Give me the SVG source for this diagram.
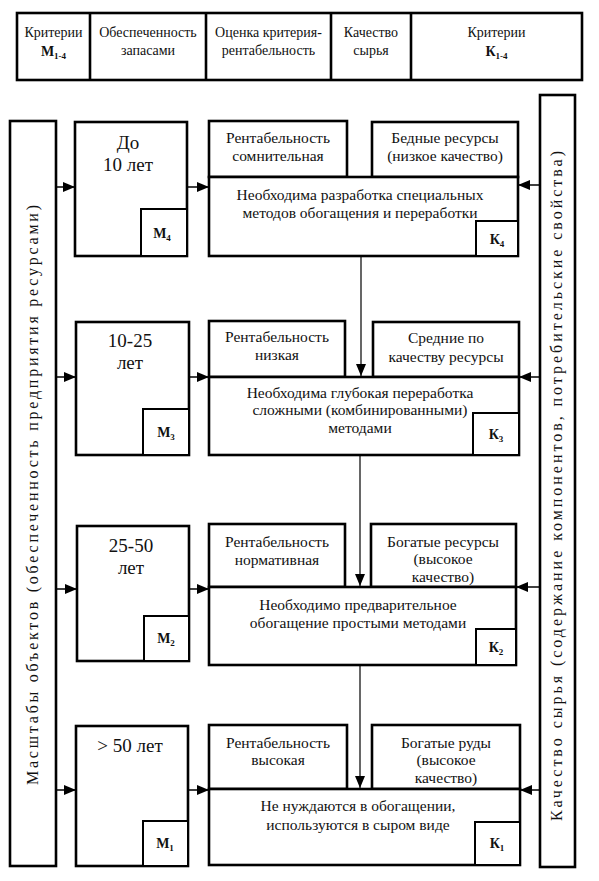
<svg xmlns="http://www.w3.org/2000/svg" width="599" height="881" viewBox="0 0 599 881">
<style>
text{font-family:'Liberation Serif','DejaVu Serif','Times New Roman',serif;fill:#111;text-anchor:middle}
.b{fill:#fff;stroke:#000;stroke-width:2.6}
.s{fill:#fff;stroke:#000;stroke-width:2}
.h{font-size:14px}
.t{font-size:15.5px}
.y{font-size:19px}
.k{font-size:14px;font-weight:bold}
.sub{font-size:9px}
.v{font-size:16px}
.c{fill:none;stroke:#000;stroke-width:1.5}
.c1{fill:none;stroke:#000;stroke-width:1.2}
</style>
<defs>
<marker id="ah" markerUnits="userSpaceOnUse" markerWidth="12" markerHeight="10" refX="12" refY="5" orient="auto">
<path d="M0,0 L12,5 L0,10 Z" fill="#000"/>
</marker>
</defs>
<rect width="599" height="881" fill="#fff"/>

<g id="header">
<rect class="b" x="17" y="13" width="565" height="67"/>
<line class="b" x1="90" y1="13" x2="90" y2="80"/>
<line class="b" x1="206" y1="13" x2="206" y2="80"/>
<line class="b" x1="331" y1="13" x2="331" y2="80"/>
<line class="b" x1="411" y1="13" x2="411" y2="80"/>
<text class="h" x="53.5" y="37">Критерии</text>
<text class="k" x="53.5" y="56">M<tspan class="sub" dy="3">1-4</tspan></text>
<text class="h" x="148" y="37">Обеспеченность</text>
<text class="h" x="148" y="55">запасами</text>
<text class="h" x="268.5" y="37">Оценка критерия-</text>
<text class="h" x="268.5" y="55">рентабельность</text>
<text class="h" x="371" y="37">Качество</text>
<text class="h" x="371" y="55">сырья</text>
<text class="h" x="496.5" y="37">Критерии</text>
<text class="k" x="496.5" y="56">К<tspan class="sub" dy="3">1-4</tspan></text>
</g>

<g id="left-bar">
<rect class="b" x="10" y="121" width="46" height="745"/>
<text class="v" transform="translate(33,495) rotate(-90)" y="5" textLength="580" lengthAdjust="spacing">Масштабы объектов (обеспеченность предприятия ресурсами)</text>
</g>

<g id="right-bar">
<rect class="b" x="540" y="95" width="35" height="772"/>
<text class="v" transform="translate(557,486) rotate(-90)" y="5" textLength="670" lengthAdjust="spacing">Качество сырья (содержание компонентов, потребительские свойства)</text>
</g>

<!-- Row 1 -->
<g id="m4">
<rect class="b" x="75" y="122" width="112" height="134"/>
<rect class="s" x="141" y="209" width="46" height="47"/>
<text class="y" x="128" y="149">До</text>
<text class="y" x="128" y="171">10 лет</text>
<text class="k" x="162" y="238">M<tspan class="sub" dy="3">4</tspan></text>
</g>
<g id="r4">
<rect class="b" x="209" y="121" width="138" height="56"/>
<text class="t" x="278" y="143">Рентабельность</text>
<text class="t" x="278" y="161">сомнительная</text>
</g>
<g id="q4">
<rect class="b" x="372" y="122" width="146" height="55"/>
<text class="t" x="445" y="143">Бедные ресурсы</text>
<text class="t" x="445" y="161">(низкое качество)</text>
</g>
<g id="n4">
<rect class="b" x="209" y="177" width="309" height="79"/>
<rect class="s" x="476" y="221" width="42" height="35"/>
<text class="t" x="360" y="200">Необходима разработка специальных</text>
<text class="t" x="360" y="218">методов обогащения и переработки</text>
<text class="k" x="497" y="244">К<tspan class="sub" dy="3">4</tspan></text>
</g>

<!-- Row 2 -->
<g id="m3">
<rect class="b" x="76" y="322" width="113" height="133"/>
<rect class="s" x="143" y="409" width="46" height="46"/>
<text class="y" x="130" y="347">10-25</text>
<text class="y" x="130" y="369">лет</text>
<text class="k" x="166" y="437">M<tspan class="sub" dy="3">3</tspan></text>
</g>
<g id="r3">
<rect class="b" x="209" y="321" width="136" height="56"/>
<text class="t" x="277" y="342">Рентабельность</text>
<text class="t" x="277" y="360">низкая</text>
</g>
<g id="q3">
<rect class="b" x="373" y="322" width="146" height="55"/>
<text class="t" x="446" y="343">Средние по</text>
<text class="t" x="446" y="362">качеству ресурсы</text>
</g>
<g id="n3">
<rect class="b" x="209" y="377" width="310" height="78"/>
<rect class="s" x="473" y="413" width="46" height="42"/>
<text class="t" x="360" y="398">Необходима глубокая переработка</text>
<text class="t" x="360" y="415">сложными (комбинированными)</text>
<text class="t" x="360" y="433">методами</text>
<text class="k" x="496" y="439">К<tspan class="sub" dy="3">3</tspan></text>
</g>

<!-- Row 3 -->
<g id="m2">
<rect class="b" x="77" y="526" width="112" height="135"/>
<rect class="s" x="144" y="616" width="45" height="45"/>
<text class="y" x="131" y="552">25-50</text>
<text class="y" x="131" y="574">лет</text>
<text class="k" x="166" y="643">M<tspan class="sub" dy="3">2</tspan></text>
</g>
<g id="r2">
<rect class="b" x="209" y="524" width="136" height="63"/>
<text class="t" x="277" y="547">Рентабельность</text>
<text class="t" x="277" y="565">нормативная</text>
</g>
<g id="q2">
<rect class="b" x="371" y="524" width="145" height="63"/>
<text class="t" x="443" y="547">Богатые ресурсы</text>
<text class="t" x="443" y="564">(высокое</text>
<text class="t" x="443" y="582">качество)</text>
</g>
<g id="n2">
<rect class="b" x="209" y="587" width="307" height="78"/>
<rect class="s" x="476" y="629" width="40" height="36"/>
<text class="t" x="358" y="610">Необходимо предварительное</text>
<text class="t" x="358" y="628">обогащение простыми методами</text>
<text class="k" x="496" y="652">К<tspan class="sub" dy="3">2</tspan></text>
</g>

<!-- Row 4 -->
<g id="m1">
<rect class="b" x="76" y="726" width="112" height="140"/>
<rect class="s" x="143" y="821" width="45" height="45"/>
<text class="y" x="130" y="752">&gt; 50 лет</text>
<text class="k" x="165" y="848">M<tspan class="sub" dy="3">1</tspan></text>
</g>
<g id="r1">
<rect class="b" x="209" y="725" width="138" height="64"/>
<text class="t" x="278" y="748">Рентабельность</text>
<text class="t" x="278" y="765">высокая</text>
</g>
<g id="q1">
<rect class="b" x="372" y="725" width="148" height="64"/>
<text class="t" x="446" y="748">Богатые руды</text>
<text class="t" x="446" y="765">(высокое</text>
<text class="t" x="446" y="783">качество)</text>
</g>
<g id="n1">
<rect class="b" x="209" y="789" width="311" height="76"/>
<rect class="s" x="475" y="822" width="45" height="43"/>
<text class="t" x="358" y="811">Не нуждаются в обогащении,</text>
<text class="t" x="358" y="830">используются в сыром виде</text>
<text class="k" x="497" y="848">К<tspan class="sub" dy="3">1</tspan></text>
</g>

<g id="connectors">
<line class="c" x1="56" y1="187" x2="75" y2="187" marker-end="url(#ah)"/>
<line class="c" x1="187" y1="187" x2="209" y2="187" marker-end="url(#ah)"/>
<line class="c" x1="540" y1="185" x2="518" y2="185" marker-end="url(#ah)"/>
<line class="c" x1="56" y1="377" x2="76" y2="377" marker-end="url(#ah)"/>
<line class="c" x1="189" y1="377" x2="209" y2="377" marker-end="url(#ah)"/>
<line class="c" x1="540" y1="377" x2="519" y2="377" marker-end="url(#ah)"/>
<line class="c" x1="56" y1="589" x2="77" y2="589" marker-end="url(#ah)"/>
<line class="c" x1="189" y1="589" x2="209" y2="589" marker-end="url(#ah)"/>
<line class="c" x1="540" y1="587" x2="516" y2="587" marker-end="url(#ah)"/>
<line class="c" x1="56" y1="790" x2="76" y2="790" marker-end="url(#ah)"/>
<line class="c" x1="188" y1="790" x2="209" y2="790" marker-end="url(#ah)"/>
<line class="c" x1="540" y1="790" x2="520" y2="790" marker-end="url(#ah)"/>
<line class="c1" x1="361" y1="256" x2="361" y2="376" marker-end="url(#ah)"/>
<line class="c1" x1="360" y1="455" x2="360" y2="586" marker-end="url(#ah)"/>
<line class="c1" x1="360" y1="665" x2="360" y2="788" marker-end="url(#ah)"/>
</g>
</svg>
